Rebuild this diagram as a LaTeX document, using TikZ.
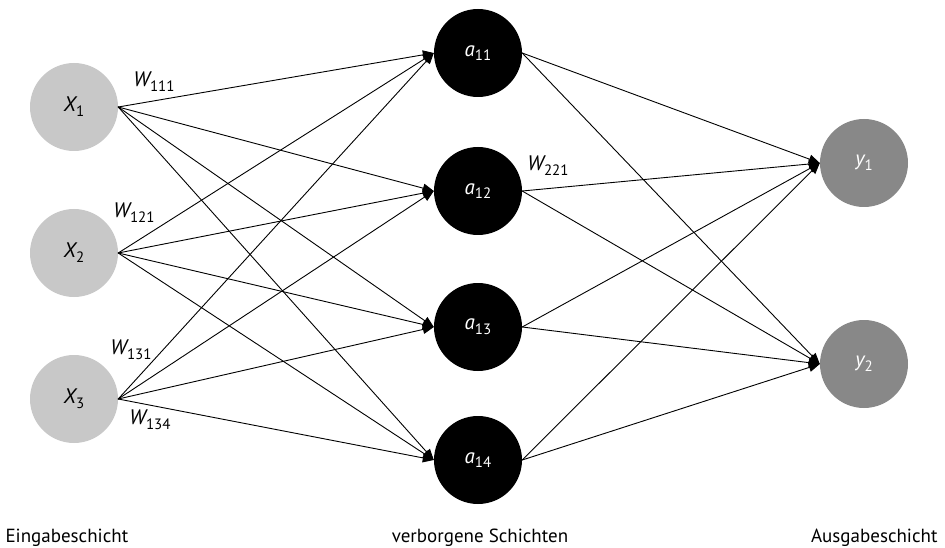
\documentclass[tikz,border=0pt]{standalone}
\usepackage{fontspec}
\setmainfont{PT Sans}
\usetikzlibrary{arrows.meta}
\newcommand{\idx}[2]{{\itshape #1}\raisebox{-0.45ex}{\fontsize{15}{15}\selectfont #2}}
\begin{document}
\begin{tikzpicture}[x=1pt, y=-1pt, line cap=round, line join=round,
  font=\fontsize{21}{23}\selectfont,
  neuron/.style={circle, minimum size=88pt, inner sep=0pt},
  inneuron/.style={neuron, fill=inputgray},
  hidneuron/.style={neuron, fill=black, text=white},
  outneuron/.style={neuron, fill=outputgray, text=white},
  weight/.style={-{Triangle[length=11pt,width=9pt]}, line width=0.9pt},
  layer/.style={font=\fontsize{19}{21}\selectfont}]
  \definecolor{inputgray}{RGB}{200,200,200}
  \definecolor{outputgray}{RGB}{136,136,136}
  \useasboundingbox (0,0) rectangle (945,548);
  % input layer
  \node[inneuron] (x1) at (74,107) {\idx{X}{1}};
  \node[inneuron] (x2) at (74,253) {\idx{X}{2}};
  \node[inneuron] (x3) at (74,399) {\idx{X}{3}};
  % hidden layer
  \node[hidneuron] (a1) at (478,53) {\idx{a}{11}};
  \node[hidneuron] (a2) at (478,191) {\idx{a}{12}};
  \node[hidneuron] (a3) at (478,327) {\idx{a}{13}};
  \node[hidneuron] (a4) at (478,460) {\idx{a}{14}};
  % output layer
  \node[outneuron] (y1) at (864,163) {\idx{y}{1}};
  \node[outneuron] (y2) at (864,364) {\idx{y}{2}};
  % connections
  \foreach \i in {1,2,3}
    \foreach \j in {1,...,4}
      \draw[weight] (x\i.east) -- (a\j.west);
  \foreach \j in {1,...,4}
    \foreach \k in {1,2}
      \draw[weight] (a\j.east) -- (y\k.west);
  % weight labels
  \node (w111) at (154,82) {\idx{W}{111}};
  \node (w121) at (134,213) {\idx{W}{121}};
  \node (w131) at (131,350) {\idx{W}{131}};
  \node (w134) at (150,420) {\idx{W}{134}};
  \node (w221) at (548,166) {\idx{W}{221}};
  % layer names
  \node[layer, anchor=base west] (inlabel) at (2,542) {Eingabeschicht};
  \node[layer, anchor=base] (hidlabel) at (480,542) {verborgene Schichten};
  \node[layer, anchor=base east] (outlabel) at (941,542) {Ausgabeschicht};
\end{tikzpicture}
\end{document}
